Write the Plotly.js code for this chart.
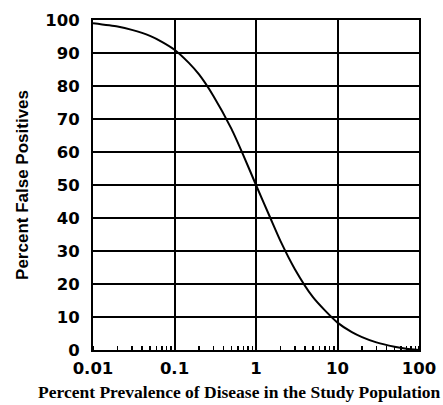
<!DOCTYPE html>
<html>
<head>
<meta charset="utf-8">
<script src="https://cdn.plot.ly/plotly-3.0.1.min.js"></script>
<style>html,body{margin:0;padding:0;background:#fff;}#chart{width:443px;height:405px;}</style>
</head>
<body>
<div id="chart"></div>
<script>
// Percent prevalence (x, log scale) and percent false positives (y)
var prevalence = [0.01, 0.02, 0.03, 0.05, 0.07, 0.1, 0.15, 0.2, 0.3, 0.5, 0.7, 1, 1.5, 2, 3, 5, 7, 10, 15, 20, 30, 50, 70, 100];
var falsePositives = [99.0, 98.0, 97.0, 95.2, 93.4, 91.0, 87.0, 83.5, 77.0, 67.0, 59.0, 50.0, 40.0, 33.0, 24.5, 16.0, 12.0, 8.3, 5.4, 3.9, 2.3, 1.0, 0.4, 0.0];
var xTickVals = [0.01, 0.1, 1, 10, 100];
var xTickText = ["0.01", "0.1", "1", "10", "100"];
var yTickVals = [0, 10, 20, 30, 40, 50, 60, 70, 80, 90, 100];
var xTitle = "Percent Prevalence of Disease in the Study Population";
var yTitle = "Percent False Positives";

var tickFont = {family: "DejaVu Sans", size: 16.5, color: "#000", weight: "bold"};

var trace = {
  x: prevalence,
  y: falsePositives,
  type: "scatter",
  mode: "lines",
  line: {color: "#000", width: 2, shape: "spline", smoothing: 0.6},
  hoverinfo: "skip",
  showlegend: false
};

var layout = {
  width: 443,
  height: 405,
  margin: {l: 93, r: 24, t: 20, b: 55},
  paper_bgcolor: "#fff",
  plot_bgcolor: "#fff",
  showlegend: false,
  xaxis: {
    type: "log",
    range: [-2, 2],
    tickmode: "array",
    tickvals: xTickVals,
    ticktext: xTickText,
    tickfont: tickFont,
    ticks: "",
    showgrid: true,
    gridcolor: "#000",
    gridwidth: 2,
    showline: true,
    linecolor: "#000",
    linewidth: 2,
    mirror: true,
    zeroline: false,
    ticklabelstandoff: 2,
    minor: {dtick: "D1", ticks: "inside", ticklen: 4, tickcolor: "#000", tickwidth: 1.5, showgrid: false}
  },
  yaxis: {
    range: [0, 100],
    tickmode: "array",
    tickvals: yTickVals,
    tickfont: tickFont,
    ticks: "",
    showgrid: true,
    gridcolor: "#000",
    gridwidth: 2,
    showline: true,
    linecolor: "#000",
    linewidth: 2,
    mirror: true,
    zeroline: false,
    ticklabelstandoff: 8
  },
  annotations: [{
    text: xTitle,
    xref: "paper", yref: "paper",
    x: 0.449, y: -0.09,
    xanchor: "center", yanchor: "top",
    showarrow: false,
    font: {family: "Liberation Serif", size: 17.5, color: "#000", weight: "bold"}
  }, {
    text: yTitle,
    xref: "paper", yref: "paper",
    x: -0.218, y: 0.5,
    xanchor: "center", yanchor: "middle",
    textangle: -90,
    showarrow: false,
    font: {family: "Liberation Sans", size: 17, color: "#000", weight: "bold"}
  }]
};

Plotly.newPlot("chart", [trace], layout, {staticPlot: true, displayModeBar: false});
</script>
</body>
</html>
